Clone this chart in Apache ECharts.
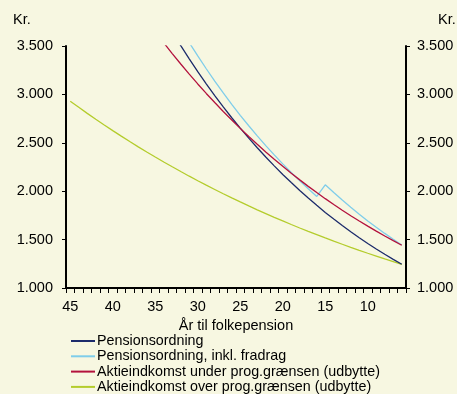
<!DOCTYPE html>
<html>
<head>
<meta charset="utf-8">
<script src="https://cdn.jsdelivr.net/npm/echarts@6/dist/echarts.min.js"></script>
<style>
html,body{margin:0;padding:0;background:#f7f7e1;overflow:hidden;}
#chart{width:457px;height:394px;}
</style>
</head>
<body>
<div id="chart"></div>
<script>
var years = ['45','44','43','42','41','40','39','38','37','36','35','34','33','32','31','30','29','28','27','26','25','24','23','22','21','20','19','18','17','16','15','14','13','12','11','10','9','8','7','6'];
var yTicks = [1000, 1500, 2000, 2500, 3000, 3500];
var seriesNames = ['Pensionsordning','Pensionsordning, inkl. fradrag','Aktieindkomst under prog.grænsen (udbytte)','Aktieindkomst over prog.grænsen (udbytte)'];
var pension = [null,null,null,null,null,null,null,null,null,null,3948,3794,3646,3503,3367,3235,3109,2988,2871,2759,2652,2548,2449,2353,2262,2173,2089,2007,1929,1854,1781,1712,1645,1581,1519,1460,1403,1348,1296,1245];
var pensionFradrag = [null,null,null,null,null,null,null,null,null,null,null,null,3828,3679,3535,3397,3265,3137,3015,2897,2784,2676,2571,2471,2375,2282,2193,2107,2025,1946,2066,1986,1908,1834,1762,1693,1627,1564,1503,1444];
var aktieUnder = [null,null,null,null,null,null,null,null,null,3766,3648,3533,3422,3314,3209,3108,3010,2916,2824,2735,2649,2565,2485,2406,2330,2257,2186,2117,2050,1986,1923,1863,1804,1747,1692,1639,1587,1537,1489,1442];
var aktieOver = [2930,2867,2804,2743,2684,2626,2569,2513,2458,2405,2353,2302,2252,2203,2155,2108,2062,2018,1974,1931,1889,1848,1808,1769,1730,1693,1656,1620,1585,1551,1517,1484,1452,1420,1389,1359,1330,1301,1273,1245];

var colors = ['#1c2b6b','#7fcdea','#b3123d','#b4cc2c'];
var font = 'Liberation Sans, Arial, sans-serif';
function fmt(v){ var s = String(v); return s.length > 3 ? s.slice(0, s.length-3) + '.' + s.slice(s.length-3) : s; }

var chart = echarts.init(document.getElementById('chart'), null, {renderer:'canvas'});
function yAxisDef(pos){
  return {
    type:'value', position:pos, min:yTicks[0], max:yTicks[yTicks.length-1], interval:500,
    axisLine:{show:true, lineStyle:{color:'#000', width:2}},
    axisTick:{show:true, length:4, lineStyle:{color:'#000', width:1}},
    axisLabel:{color:'#000', fontSize:14.5, fontFamily:font, margin: pos==='left'?13:11, formatter:fmt},
    splitLine:{show:false}
  };
}
var option = {
  backgroundColor:'#f7f7e1',
  animation:false,
  grid:{left:66, right:51, top:46, bottom:106, containLabel:false, outerBoundsMode:'none'},
  graphic:[
    {type:'text', left:13, top:12, style:{text:'Kr.', fill:'#000', font:'14.5px ' + font}},
    {type:'text', left:438, top:12, style:{text:'Kr.', fill:'#000', font:'14.5px ' + font}}
  ],
  xAxis:{
    type:'category', data:years, boundaryGap:true,
    axisLine:{lineStyle:{color:'#000', width:2}},
    axisTick:{show:true, interval:0, length:5, lineStyle:{color:'#000', width:1}},
    axisLabel:{interval:4, color:'#000', fontSize:14.5, fontFamily:font, margin:11},
    name:'År til folkepension', nameLocation:'middle', nameGap:25,
    nameTextStyle:{color:'#000', fontSize:14.5, fontFamily:font}
  },
  yAxis:[yAxisDef('left'), yAxisDef('right')],
  legend:{
    orient:'vertical', left:71, top:333.5, height:80, padding:0, itemGap:0.3, itemWidth:24, itemHeight:2, icon:'rect',
    textStyle:{color:'#000', fontSize:14.3, lineHeight:15, fontFamily:font, padding:[0,0,0,-3]},
    data:seriesNames
  },
  series:[
    {name:seriesNames[0], type:'line', data:pension, yAxisIndex:0, showSymbol:false, symbol:'none', lineStyle:{color:colors[0], width:1.3}, itemStyle:{color:colors[0]}, z:3},
    {name:seriesNames[1], type:'line', data:pensionFradrag, yAxisIndex:0, showSymbol:false, symbol:'none', lineStyle:{color:colors[1], width:1.3}, itemStyle:{color:colors[1]}, z:2},
    {name:seriesNames[2], type:'line', data:aktieUnder, yAxisIndex:0, showSymbol:false, symbol:'none', lineStyle:{color:colors[2], width:1.3}, itemStyle:{color:colors[2]}, z:4},
    {name:seriesNames[3], type:'line', data:aktieOver, yAxisIndex:0, showSymbol:false, symbol:'none', lineStyle:{color:colors[3], width:1.3}, itemStyle:{color:colors[3]}, z:1}
  ]
};
chart.setOption(option);
</script>
</body>
</html>
